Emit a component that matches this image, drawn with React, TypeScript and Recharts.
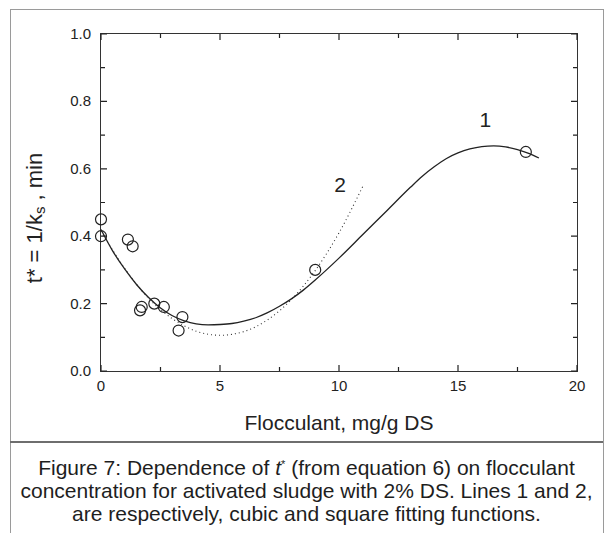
import React from "react";
import {
  ComposedChart,
  Line,
  Scatter,
  XAxis,
  YAxis,
  ReferenceDot,
} from "recharts";

// measured points (flocculant dose, t*)
const measuredX = [0, 0, 1.13, 1.33, 1.64, 1.71, 2.24, 2.64, 3.26, 3.42, 9, 17.85];
const measuredY = [0.45, 0.4, 0.39, 0.37, 0.18, 0.19, 0.2, 0.19, 0.12, 0.16, 0.3, 0.65];

// line 1 - cubic fit
const cubicX = [0, 0.5, 1, 1.5, 2, 2.5, 3, 3.5, 4, 4.5, 5, 5.5, 6, 6.5, 7, 7.5, 8, 8.5, 9, 10, 11, 12, 13, 13.5, 14, 14.5, 15, 15.5, 16, 16.5, 17, 17.5, 18, 18.4];
const cubicY = [0.42, 0.355, 0.302, 0.256, 0.218, 0.187, 0.164, 0.149, 0.14, 0.137, 0.138, 0.141, 0.148, 0.158, 0.173, 0.192, 0.214, 0.24, 0.27, 0.335, 0.405, 0.475, 0.545, 0.578, 0.606, 0.63, 0.647, 0.659, 0.666, 0.668, 0.665, 0.657, 0.645, 0.632];

// line 2 - square fit
const squareX = [0, 1, 2, 3, 3.5, 4, 5, 6, 7, 8, 9, 10, 11];
const squareY = [0.415, 0.304, 0.216, 0.155, 0.134, 0.118, 0.106, 0.117, 0.152, 0.212, 0.298, 0.41, 0.548];

const xTicks = [0, 2.5, 5, 7.5, 10, 12.5, 15, 17.5, 20];
const yTicks = [0, 0.1, 0.2, 0.3, 0.4, 0.5, 0.6, 0.7, 0.8, 0.9, 1.0];

const lineTags = [
  { x: 16.15, y: 0.745, text: "1" },
  { x: 10.05, y: 0.552, text: "2" },
];

const toRows = (xs: number[], ys: number[]) => xs.map((x, i) => ({ x, y: ys[i] }));

const points = toRows(measuredX, measuredY);
const cubic = toRows(cubicX, cubicY);
const square = toRows(squareX, squareY);

const FONT = "'Liberation Sans', Arial, sans-serif";
const INK = "#222";
const FRAME = "#333";

// plot box in px
const PLOT_L = 101;
const PLOT_T = 34;
const PLOT_W = 476;
const PLOT_H = 337;

const isMajorX = (v: number) => Math.abs(v / 5 - Math.round(v / 5)) < 1e-6;
const isMajorY = (v: number) => Math.abs(v * 5 - Math.round(v * 5)) < 1e-6;

// ticks point into the plot on all four sides; labels only bottom/left
const BottomTick = (props: any) => {
  const { x, payload } = props;
  const len = isMajorX(payload.value) ? 6 : 4;
  const bottom = PLOT_T + PLOT_H;
  return (
    <g>
      <path d={`M${x},${bottom}V${bottom - len}M${x},${PLOT_T}V${PLOT_T + len}`} stroke={INK} strokeWidth={1.2} fill="none" />
      {isMajorX(payload.value) && (
        <text x={x} y={bottom + 20} textAnchor="middle" fontSize={15} fontFamily={FONT} fill={INK}>
          {payload.value}
        </text>
      )}
    </g>
  );
};

const LeftTick = (props: any) => {
  const { y, payload } = props;
  const len = isMajorY(payload.value) ? 6 : 4;
  const right = PLOT_L + PLOT_W;
  return (
    <g>
      <path d={`M${PLOT_L},${y}H${PLOT_L + len}M${right},${y}H${right - len}`} stroke={INK} strokeWidth={1.2} fill="none" />
      {isMajorY(payload.value) && (
        <text x={PLOT_L - 10} y={y + 5} textAnchor="end" fontSize={15} fontFamily={FONT} fill={INK}>
          {payload.value.toFixed(1)}
        </text>
      )}
    </g>
  );
};

const YTitle = () => (
  <text
    x={36}
    y={218}
    transform="rotate(-90, 36, 218)"
    textAnchor="middle"
    fontSize={22}
    fontFamily={FONT}
    fill={INK}
    dominantBaseline="middle"
  >
    t* = 1/k
    <tspan fontSize={15} dy={5}>s</tspan>
    <tspan dy={-5}> , min</tspan>
  </text>
);

const XTitle = () => (
  <text x={339} y={430} textAnchor="middle" fontSize={21} fontFamily={FONT} fill={INK}>
    Flocculant, mg/g DS
  </text>
);

const OpenCircle = (p: any) => (
  <circle cx={p.cx} cy={p.cy} r={5.5} fill="none" stroke={INK} strokeWidth={1.2} />
);

const App = () => {
  return (
    <div style={{ position: "absolute", left: 0, top: 0, width: 606, height: 533, background: "#fff", overflow: "hidden" }}>
      {/* figure frame */}
      <div
        style={{
          position: "absolute",
          left: 10,
          top: 9,
          width: 592,
          height: 600,
          border: "1px solid #9a9a9a",
        }}
      />
      <div style={{ position: "absolute", left: 10, top: 441, width: 593, height: 2, background: "#6e6e6e" }} />
      {/* plot box */}
      <div
        style={{
          position: "absolute",
          left: PLOT_L - 1,
          top: PLOT_T - 1,
          width: PLOT_W,
          height: PLOT_H,
          border: `1px solid ${FRAME}`,
        }}
      />

      <div style={{ position: "absolute", left: 0, top: 0 }}>
        <ComposedChart width={606} height={533} margin={{ top: PLOT_T, right: 606 - PLOT_L - PLOT_W, bottom: 102, left: 0 }}>
          <XAxis
            dataKey="x"
            type="number"
            domain={[0, 20]}
            ticks={xTicks}
            interval={0}
            height={60}
            tickSize={0}
            tickMargin={0}
            tick={<BottomTick />}
            axisLine={false}
            label={{ content: () => <XTitle /> }}
          />
          <YAxis
            dataKey="y"
            type="number"
            domain={[0, 1]}
            ticks={yTicks}
            interval={0}
            width={PLOT_L}
            tickSize={0}
            tickMargin={0}
            tick={<LeftTick />}
            axisLine={false}
            label={{ content: () => <YTitle /> }}
          />
          <Line
            data={square}
            dataKey="y"
            type="monotone"
            dot={false}
            stroke="#333"
            strokeWidth={1.1}
            strokeDasharray="1 3"
            isAnimationActive={false}
          />
          <Line
            data={cubic}
            dataKey="y"
            type="monotone"
            dot={false}
            stroke={INK}
            strokeWidth={1.3}
            isAnimationActive={false}
          />
          <Scatter data={points} dataKey="y" shape={OpenCircle} isAnimationActive={false} />
          {lineTags.map((t) => (
            <ReferenceDot
              key={t.text}
              x={t.x}
              y={t.y}
              r={0}
              shape={(p: any) => (
                <text x={p.cx} y={p.cy + 7} textAnchor="middle" fontSize={21} fontFamily={FONT} fill={INK}>
                  {t.text}
                </text>
              )}
            />
          ))}
        </ComposedChart>
      </div>

      <div
        style={{
          position: "absolute",
          left: 10,
          top: 453,
          width: 593,
          textAlign: "center",
          fontFamily: FONT,
          fontSize: 21,
          lineHeight: "23px",
          color: "#1e1e1e",
        }}
      >
        Figure 7: Dependence of <i>t</i>
        <sup style={{ fontSize: 11, verticalAlign: "7px" }}>*</sup> (from equation 6) on flocculant
        <br />
        concentration for activated sludge with 2% DS. Lines 1 and 2,
        <br />
        are respectively, cubic and square fitting functions.
      </div>
    </div>
  );
};

export default App;
